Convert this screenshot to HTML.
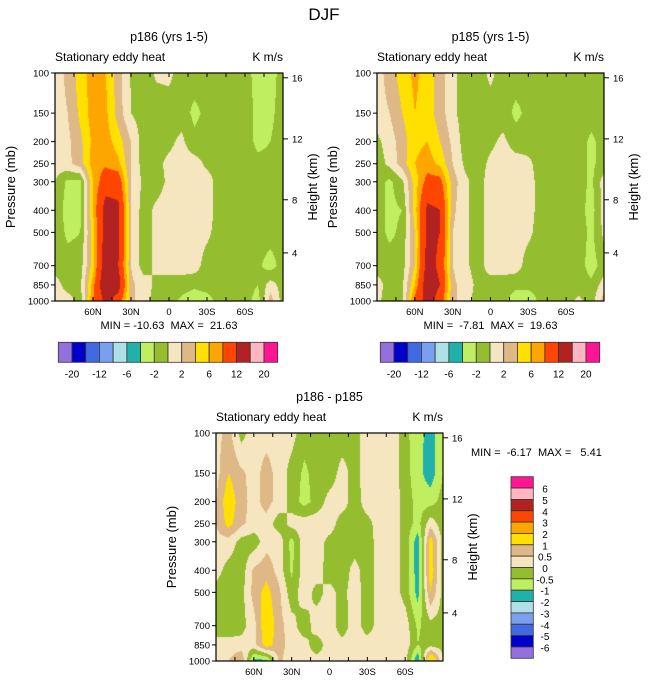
<!DOCTYPE html>
<html><head><meta charset="utf-8">
<style>
html,body{margin:0;padding:0;background:#fff;}
#root{position:relative;width:648px;height:685px;overflow:hidden;font-family:"Liberation Sans",sans-serif;}
canvas{position:absolute;}
svg{position:absolute;left:0;top:0;}
svg text{white-space:pre;}
</style></head>
<body>
<div id="root">
<canvas id="c1"></canvas>
<canvas id="c2"></canvas>
<canvas id="c3"></canvas>
<svg id="ov" width="648" height="685" xml:space="preserve"></svg>
</div>
<script>
// ---- data ----
const lats = [90,80,70,60,50,40,30,20,10,0,-10,-20,-30,-40,-50,-60,-70,-80,-90];
const pressures = [100,150,200,250,300,400,500,700,850,1000];
const p186 = [
[1,2.5,5,7,6,3,-0.2,-1,0.3,0.5,-1,-1,-1,-1,-1,-1,-3,-3,-1],
[1,2,4.5,7,6.5,3,0,-1,-1,-1,-1,-2.5,-1.5,-1,-1,-1,-2.5,-2.5,-1],
[1,1.5,3.5,6.5,7,5,2,-1,-1,-0.5,0.5,-1.5,-1,-1,-1,-1,-2.5,-2,-1],
[1,1.5,3,7,7.5,6.5,2,-1,-0.5,0.5,1,1,-0.5,-1,-1,-1,-1.5,-1.5,-1],
[0,-2.5,-2.5,6,10,10,2,-0.5,-1,0.5,1,1,1,-1,-1,-1,-1,-1.5,-1],
[-0.5,-3,-2.5,6,14,13,2,-1,0.5,1,1,1,1,-1,-1,-1,-1,-1.5,-1],
[-0.5,-2.5,-2,5,14,13,2,-1,0.5,1,1,1,0.5,-1,-1,-1,-1,-1,-1],
[-1,-1,-1,5,15,12,2,-1,0.5,1,1,1,-1,-1,-1,-1,-1.5,-3,-1],
[1,-1,-0.5,7,16,14,2.5,1,-0.5,-1,-1,-1.5,-1,-1,-1,-1,-2,1,-1],
[1,1,-1,8,13,10,2.5,1,-1,-1,-2.5,-3.5,-3,-1,-1,-1,-3,3,-1]
];
const p185 = [
[1,3,5,6.5,5,3,0.5,-1,-1,0.5,-1,-1,-1,-1,-1,-1,-1,-1,-1],
[1,2,4,6,5,3,0.5,-1,-1,-1,-1,-2.5,-1.5,-1,-1,-1,-1,-1,-1],
[-0.5,1,3,5.5,6,4,1.5,-1,-1,-0.5,0.5,-1,-1,-1,-1,-1,-1,-2.5,-1],
[-1,0.5,3,6,7,5.5,2,-0.5,-1,0.5,1,1,0.5,-1,-1,-1,-1,-2.5,-1],
[-1,-2.5,-0.5,5,9,9,3,0.5,-1,1,1,1,1,-1,-1,-1,-1,-2.5,1],
[-1,-2.5,-2,5,13,12,2.5,0.5,-1,1,1,1,1,-1,-1,-1,-1,-3,1],
[-1,-2.5,-1.5,4,13,12,2,0.5,-1,1,1,1,0.5,-1,-1,-1,-1,-2.5,0.5],
[-1,-1,-1,4,14,11,2,0.5,-1,1,1,1,-1,-1,-1,-1,-1,-3,-1],
[1,-1,-0.5,6,15,12,2.5,1,-0.5,-1,-1,-1.5,-1,-1,-1,-1,-1,-1.5,1],
[1,-2,-1,9,14,10,2.5,1,-1,-1,-1.5,-3,-4,-1,-1,-1,0.5,-1,3]
];
const pdiff = [
[0.3,0.7,-0.2,0.3,0.3,0.3,0.2,-0.3,-0.3,-0.3,-0.3,-0.2,0.3,0.3,0.3,-0.3,-0.9,-1.1,-0.8],
[0.3,1.0,0.6,0.3,0.7,0.3,-0.2,-0.6,-0.3,-0.3,0.2,-0.2,0.3,0.3,0.3,-0.3,-0.8,-1.3,-0.5],
[0.5,1.4,0.7,0.3,0.7,0.3,-0.2,-0.7,-0.3,0.2,0.3,-0.3,0.3,0.3,0.3,-0.2,-0.7,-0.7,-0.3],
[0.5,1.2,0.6,0.3,0.3,-0.3,0.2,0.3,0.3,0.3,-0.3,-0.3,-0.2,0.3,0.3,-0.2,-0.7,0.3,-0.3],
[0.3,0.3,-0.2,-0.3,0.3,0.3,-0.7,0.3,0.3,-0.2,-0.3,-0.3,-0.3,0.3,0.3,-0.2,-1.3,1.3,-0.2],
[0.2,-0.2,-0.3,0.6,0.8,0.3,-0.6,0.3,0.3,-0.3,-0.3,0.2,-0.3,0.3,0.3,-0.2,-1.3,1.4,-0.2],
[-0.2,-0.3,-0.2,0.7,1.2,0.6,-0.3,0.3,-0.2,0.2,-0.2,0.3,-0.3,0.3,0.3,-0.2,-1.2,1.0,-0.2],
[-0.3,-0.3,-0.2,0.3,1.5,0.7,0.2,-0.3,0.3,0.3,-0.3,0.3,-0.3,0.3,0.3,0.3,-0.6,-0.2,-0.2],
[0.2,0.2,0.2,0.3,1.3,0.7,0.3,0.2,-0.3,0.3,0.2,0.3,0.3,0.3,0.3,0.3,-0.5,-0.2,-0.2],
[0.2,0.5,1.0,-1.2,-1.2,0.6,0.2,0.2,0.2,0.2,0.2,0.2,0.2,0.2,0.2,0.2,-1.5,2,0]
];
const levelsA = [-20,-16,-12,-8,-6,-4,-2,0,2,4,6,8,12,16,20];
const levelsB = [-6,-5,-4,-3,-2,-1,-0.5,0,0.5,1,2,3,4,5,6];
const labelsA = ["-20","-12","-6","-2","2","6","12","20"];
const labelsB = ["6","5","4","3","2","1","0.5","0","-0.5","-1","-2","-3","-4","-5","-6"];
const palette = ["#9370DB","#0000CD","#4169E1","#7B9FF0","#B0E0E6","#20B2AA","#BFEF60","#94BD30","#F5E6C0","#DEB887","#FFE000","#FFA500","#FF4500","#B22222","#FFB6C1","#FF1493"];
const latTicks = [60,30,0,-30,-60];
const latTickLabels = ["60N","30N","0","30S","60S"];
const pTicks = [100,150,200,250,300,400,500,700,850,1000];
const hTicks = [16,12,8,4];
const hFrac = [0.021,0.289,0.556,0.789];

const NS="http://www.w3.org/2000/svg";
const ov=document.getElementById('ov');
function mk(tag,attrs,name,parent){
  const e=document.createElementNS(NS,tag);
  for(const k in attrs)e.setAttribute(k,attrs[k]);
  
  
  (parent||ov).appendChild(e);return e;
}
function txt(x,y,s,size,name,anchor,rot){
  const t=mk('text',{x:x,y:y,'font-size':size,'text-anchor':anchor||'middle','font-family':'Liberation Sans, sans-serif',fill:'#000'},name);
  if(rot)t.setAttribute('transform','rotate('+rot+' '+x+' '+y+')');
  t.textContent=s;return t;
}
function colorFor(v,levels){let i=0;while(i<levels.length&&v>=levels[i])i++;return palette[i];}

function panel(cid,P,data,levels,title,minmax,tag){
  const xS=lat=>P.x+(90-lat)/180*P.w;
  const yS=p=>P.y+Math.log10(p/100)*P.h;
  const cv=document.getElementById(cid);
  cv.width=P.w;cv.height=P.h;cv.style.left=P.x+'px';cv.style.top=P.y+'px';
  const ctx=cv.getContext('2d');
  const img=ctx.createImageData(P.w,P.h);
  const lp=pressures.map(p=>Math.log10(p));
  const rgbCache={};
  for(let py=0;py<P.h;py++){
    const l=2+(py+0.5)/P.h;
    let r=0;while(r<lp.length-2&&l>lp[r+1])r++;
    const fy=Math.min(1,Math.max(0,(l-lp[r])/(lp[r+1]-lp[r])));
    for(let px=0;px<P.w;px++){
      const lat=90-(px+0.5)/P.w*180;
      const fc=(90-lat)/10;let c=Math.min(17,Math.floor(fc));const fx=fc-c;
      const v=(data[r][c]*(1-fx)+data[r][c+1]*fx)*(1-fy)+(data[r+1][c]*(1-fx)+data[r+1][c+1]*fx)*fy;
      const col=colorFor(v,levels);
      let rgb=rgbCache[col];
      if(!rgb){rgb=[parseInt(col.substr(1,2),16),parseInt(col.substr(3,2),16),parseInt(col.substr(5,2),16)];rgbCache[col]=rgb;}
      const k=(py*P.w+px)*4;img.data[k]=rgb[0];img.data[k+1]=rgb[1];img.data[k+2]=rgb[2];img.data[k+3]=255;
    }
  }
  ctx.putImageData(img,0,0);
  mk('rect',{x:P.x,y:P.y,width:P.w,height:P.h,fill:'none',stroke:'#000','stroke-width':1.2},tag+'-plot-frame');
  for(let lat=75;lat>=-75;lat-=15){
    const x=xS(lat);
    mk('line',{x1:x,y1:P.y+P.h,x2:x,y2:P.y+P.h-4,stroke:'#000','stroke-width':1},tag+'-x-tick');
    mk('line',{x1:x,y1:P.y,x2:x,y2:P.y+4,stroke:'#000','stroke-width':1},tag+'-x-top-tick');
  }
  latTicks.forEach((lat,i)=>{txt(xS(lat),P.y+P.h+14,latTickLabels[i],9.5,tag+'-x-tick-label');});
  pTicks.forEach(p=>{
    const y=yS(p);
    mk('line',{x1:P.x,y1:y,x2:P.x-4,y2:y,stroke:'#000','stroke-width':1},tag+'-y-tick');
    txt(P.x-6,y+3.5,String(p),9.5,tag+'-y-tick-label','end');
  });
  hTicks.forEach((h,i)=>{
    const y=P.y+hFrac[i]*P.h;
    mk('line',{x1:P.x+P.w,y1:y,x2:P.x+P.w+5,y2:y,stroke:'#000','stroke-width':1},tag+'-right-tick');
    txt(P.x+P.w+9,y+3.5,String(h),9.5,tag+'-right-tick-label','start');
  });
  txt(P.x-40,P.y+P.h/2,'Pressure (mb)',13,tag+'-y-axis-title','middle',-90);
  txt(P.x+P.w+34,P.y+P.h/2,'Height (km)',13,tag+'-right-axis-title','middle',-90);
  txt(P.x+P.w/2,P.y-32,title,12.5,tag+'-title');
  txt(P.x,P.y-12,'Stationary eddy heat',12,tag+'-left-string','start');
  txt(P.x+P.w,P.y-12,'K m/s',12,tag+'-right-string','end');
  if(minmax)txt(P.x+P.w/2,P.y+P.h+28,minmax,11,tag+'-min-max');
}
txt(324,20,'DJF',17,'figure-title');
panel('c1',{x:55,y:73,w:228,h:228},p186,levelsA,'p186 (yrs 1-5)','MIN = -10.63  MAX =  21.63','p186');
panel('c2',{x:377,y:73,w:227,h:228},p185,levelsA,'p185 (yrs 1-5)','MIN =  -7.81  MAX =  19.63','p185');
panel('c3',{x:216,y:433,w:227,h:228},pdiff,levelsB,'p186 - p185',null,'diff');
txt(471,456,'MIN =  -6.17  MAX =   5.41',11,'diff-min-max','start');

function hbar(x0,y0,w,h,tag){
  const bw=w/palette.length;
  palette.forEach((c,i)=>{mk('rect',{x:x0+i*bw,y:y0,width:bw,height:h,fill:c,stroke:'#333','stroke-width':0.8},tag+'-colorbar-box');});
  labelsA.forEach((s,i)=>{txt(x0+(2*i+1)*bw,y0+h+15,s,10,tag+'-colorbar-label');});
}
hbar(58.3,342.3,219.4,20,'p186');
hbar(380.3,342.3,219.4,20,'p185');
(function(){
  const x0=511,y0=476.7,w=22.3,h=181.6,bh=h/palette.length;
  palette.slice().reverse().forEach((c,i)=>{mk('rect',{x:x0,y:y0+i*bh,width:w,height:bh,fill:c,stroke:'#333','stroke-width':0.8},'diff-colorbar-box');});
  labelsB.forEach((s,i)=>{txt(545,y0+(i+1)*bh+4.5,s,10,'diff-colorbar-label');});
})();
</script>
</body></html>
